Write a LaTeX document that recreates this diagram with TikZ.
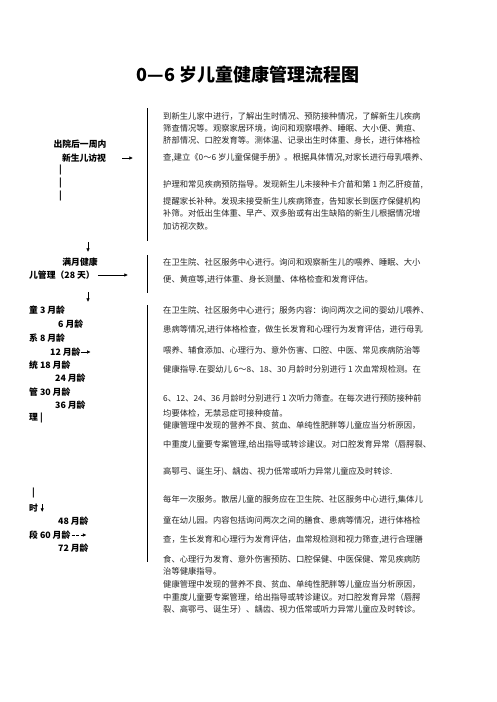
\documentclass[tikz,border=0pt]{standalone}
\usepackage{fontspec}
\newfontfamily\cjk{Noto Sans CJK SC}
\usetikzlibrary{arrows.meta}
\begin{document}
\begin{tikzpicture}[x=1pt,y=1pt,
  body/.style={anchor=west,inner sep=0pt,font=\cjk\fontsize{8.3}{9}\selectfont,text=black!85},
  lab/.style={anchor=west,inner sep=0pt,font=\cjk\bfseries\fontsize{8.8}{10}\selectfont},
  labc/.style={lab,anchor=center},
  arr/.style={-{Latex[length=3.6pt,width=3.4pt]},line width=0.6pt},
  rulel/.style={line width=0.7pt}]
\useasboundingbox[fill=white] (0,0) rectangle (496,-702);

\node[font=\cjk\bfseries\fontsize{18}{21}\selectfont,inner sep=0pt] (title) at (248,-75) {0—6 岁儿童健康管理流程图};

% vertical rules
\coordinate (r1t) at (147,-108); \coordinate (r1b) at (147,-241);
\coordinate (r2t) at (147,-255); \coordinate (r2b) at (147,-293);
\coordinate (r3t) at (147,-305); \coordinate (r3b) at (147,-562);
\draw[rulel] (r1t) -- (r1b);
\draw[rulel] (r2t) -- (r2b);
\draw[rulel] (r3t) -- (r3b);

% block 1
\node[body] (b11) at (163,-116) {到新生儿家中进行，了解出生时情况、预防接种情况，了解新生儿疾病};
\node[body] (b12) at (163,-128) {筛查情况等。观察家居环境，询问和观察喂养、睡眠、大小便、黄疸、};
\node[body] (b13) at (163,-140) {脐部情况、口腔发育等。测体温、记录出生时体重、身长，进行体格检};
\node[body] (b14) at (163,-158) {查,建立《0～6 岁儿童保健手册》。根据具体情况,对家长进行母乳喂养、};
\node[body] (b15) at (163,-185) {护理和常见疾病预防指导。发现新生儿未接种卡介苗和第 1 剂乙肝疫苗,};
\node[body] (b16) at (163,-201) {提醒家长补种。发现未接受新生儿疾病筛查，告知家长到医疗保健机构};
\node[body] (b17) at (163,-213) {补筛。对低出生体重、早产、双多胎或有出生缺陷的新生儿根据情况增};
\node[body] (b18) at (163,-226) {加访视次数。};

% block 2
\node[body] (b21) at (163,-262) {在卫生院、社区服务中心进行。询问和观察新生儿的喂养、睡眠、大小};
\node[body] (b22) at (163,-280) {便、黄疸等,进行体重、身长测量、体格检查和发育评估。};

% block 3
\node[body] (b31) at (163,-311) {在卫生院、社区服务中心进行；服务内容：询问两次之间的婴幼儿喂养、};
\node[body] (b32) at (163,-330) {患病等情况,进行体格检查，做生长发育和心理行为发育评估，进行母乳};
\node[body] (b33) at (163,-350) {喂养、辅食添加、心理行为、意外伤害、口腔、中医、常见疾病防治等};
\node[body] (b34) at (163,-369) {健康指导.在婴幼儿 6～8、18、30 月龄时分别进行 1 次血常规检测。在};
\node[body] (b35) at (163,-398) {6、12、24、36 月龄时分别进行 1 次听力筛查。在每次进行预防接种前};
\node[body] (b36) at (163,-413) {均要体检，无禁忌症可接种疫苗。};
\node[body] (b37) at (163,-425) {健康管理中发现的营养不良、贫血、单纯性肥胖等儿童应当分析原因，};
\node[body] (b38) at (163,-445) {中重度儿童要专案管理,给出指导或转诊建议。对口腔发育异常（唇腭裂、};
\node[body] (b39) at (163,-472) {高鄂弓、诞生牙)、龋齿、视力低常或听力异常儿童应及时转诊.};

% block 4
\node[body] (b41) at (163,-500) {每年一次服务。散居儿童的服务应在卫生院、社区服务中心进行,集体儿};
\node[body] (b42) at (163,-520) {童在幼儿园。内容包括询问两次之间的膳食、患病等情况，进行体格检};
\node[body] (b43) at (163,-540) {查，生长发育和心理行为发育评估，血常规检测和视力筛查,进行合理膳};
\node[body] (b44) at (163,-559) {食、心理行为发育、意外伤害预防、口腔保健、中医保健、常见疾病防};
\node[body] (b45) at (163,-571) {治等健康指导。};
\node[body] (b46) at (163,-584) {健康管理中发现的营养不良、贫血、单纯性肥胖等儿童应当分析原因，};
\node[body] (b47) at (163,-597) {中重度儿童要专案管理，给出指导或转诊建议。对口腔发育异常（唇腭};
\node[body] (b48) at (163,-609) {裂、高鄂弓、诞生牙）、龋齿、视力低常或听力异常儿童应及时转诊。};

% left column, stage 1
\node[labc] (l1a) at (80,-144) {出院后一周内};
\node[labc] (l1b) at (84,-158) {新生儿访视};
\coordinate (a1s) at (122,-158); \coordinate (a1e) at (133,-158);
\draw[arr] (a1s) -- (a1e);
\node[lab] (p1) at (59,-170) {|};
\node[lab] (p2) at (59,-183) {|};
\node[lab] (p3) at (59,-196) {|};

\coordinate (d1s) at (88,-242); \coordinate (d1e) at (88,-252);
\draw[arr] (d1s) -- (d1e);

% stage 2
\node[labc] (l2a) at (80,-262) {满月健康};
\node[lab] (l2b) at (29,-275) {儿管理（28 天）};
\coordinate (a2e) at (128,-275);
\draw[arr] ([xshift=3pt]l2b.east) -- (a2e);

\coordinate (d2s) at (88,-292); \coordinate (d2e) at (88,-302);
\draw[arr] (d2s) -- (d2e);

% stage 3
\node[lab] (l31) at (29,-310) {童 3 月龄};
\node[lab] (l32) at (58,-324) {6 月龄};
\node[lab] (l33) at (29,-338) {系 8 月龄};
\node[lab] (l34) at (50,-352) {12 月龄};
\coordinate (a3e) at ([xshift=10pt]l34.east);
\draw[arr] (l34.east) -- (a3e);
\node[lab] (l35) at (29,-365) {统 18 月龄};
\node[lab] (l36) at (55,-378) {24 月龄};
\node[lab] (l37) at (29,-392) {管 30 月龄};
\node[lab] (l38) at (55,-405) {36 月龄};
\node[lab] (l39) at (29,-418) {理 |};

% stage 4
\node[lab] (p4) at (32,-493) {|};
\node[lab] (l41) at (29,-508) {时};
\coordinate (d3s) at ([xshift=4pt,yshift=4pt]l41.east);
\coordinate (d3e) at ([xshift=4pt,yshift=-4pt]l41.east);
\draw[arr] (d3s) -- (d3e);
\node[lab] (l42) at (58,-521) {48 月龄};
\node[lab] (l43) at (29,-535) {段 60 月龄};
\coordinate (a4e) at ([xshift=16pt]l43.east);
\draw[arr,dash pattern=on 3pt off 1.5pt] ([xshift=1pt]l43.east) -- (a4e);
\node[lab] (l44) at (58,-548) {72 月龄};
\end{tikzpicture}
\end{document}
